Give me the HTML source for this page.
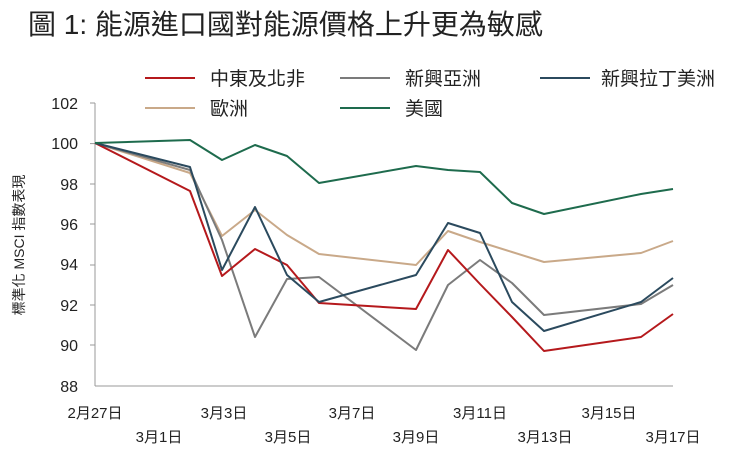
<!DOCTYPE html>
<html><head><meta charset="utf-8"><style>
body{margin:0;background:#fff;}
svg text{font-family:"Liberation Sans","Noto Sans CJK TC",sans-serif;fill:#222;}
</style></head><body>
<svg width="733" height="446" viewBox="0 0 733 446" xmlns="http://www.w3.org/2000/svg">
<text x="28" y="34" font-size="28">圖 1: 能源進口國對能源價格上升更為敏感</text>
<g font-size="19">
<line x1="145" y1="78" x2="195" y2="78" stroke="#b5191c" stroke-width="2"/><text x="210" y="85">中東及北非</text>
<line x1="340" y1="78" x2="390" y2="78" stroke="#7b7b7b" stroke-width="2"/><text x="405" y="85">新興亞洲</text>
<line x1="540" y1="78" x2="590" y2="78" stroke="#2b4a5e" stroke-width="2"/><text x="601" y="85">新興拉丁美洲</text>
<line x1="145" y1="108" x2="195" y2="108" stroke="#c9a989" stroke-width="2"/><text x="210" y="115">歐洲</text>
<line x1="340" y1="108" x2="390" y2="108" stroke="#1e6b4d" stroke-width="2"/><text x="405" y="115">美國</text>
</g>
<g font-size="16" text-anchor="end">
<text x="78" y="109">102</text><text x="78" y="149">100</text><text x="78" y="190">98</text><text x="78" y="230">96</text><text x="78" y="270">94</text><text x="78" y="311">92</text><text x="78" y="351">90</text><text x="78" y="392">88</text>
</g>
<text transform="translate(24,245) rotate(-90)" font-size="14" text-anchor="middle">標準化 MSCI 指數表現</text>
<line x1="95" y1="103" x2="95" y2="386" stroke="#999"/>
<line x1="95" y1="386" x2="673" y2="386" stroke="#999"/>
<g stroke="#999"><line x1="90" y1="103" x2="95" y2="103"/><line x1="90" y1="143.6" x2="95" y2="143.6"/><line x1="90" y1="184" x2="95" y2="184"/><line x1="90" y1="224" x2="95" y2="224"/><line x1="90" y1="265" x2="95" y2="265"/><line x1="90" y1="305" x2="95" y2="305"/><line x1="90" y1="345" x2="95" y2="345"/></g>
<g font-size="15" text-anchor="middle">
<text x="95" y="418">2月27日</text><text x="224" y="418">3月3日</text><text x="352" y="418">3月7日</text><text x="480" y="418">3月11日</text><text x="609" y="418">3月15日</text>
<text x="159" y="442">3月1日</text><text x="288" y="442">3月5日</text><text x="416" y="442">3月9日</text><text x="545" y="442">3月13日</text><text x="673" y="442">3月17日</text>
</g>
<g fill="none" stroke-width="2" stroke-linejoin="round">
<polyline stroke="#c9a989" points="95,143 190,173 222,236 255,210 287,235 319,254 416,265 448,231 480,242 512,252 544,262 641,253 673,241"/>
<polyline stroke="#7b7b7b" points="95,143 190,170 222,240 255,337 287,279 319,277 416,350 448,285 480,260 512,283 544,315 641,304 673,285"/>
<polyline stroke="#b5191c" points="95,143 190,191 222,276 255,249 287,265 319,303 416,309 448,250 480,284 512,317 544,351 641,337 673,314"/>
<polyline stroke="#2b4a5e" points="95,143 190,167 222,270 255,207 287,275 319,302 416,275 448,223 480,233 512,302 544,331 641,302 673,278"/>
<polyline stroke="#1e6b4d" points="95,143 190,140 222,160 255,145 287,156 319,183 416,166 448,170 480,172 512,203 544,214 641,194 673,189"/>
</g>
</svg>
</body></html>
